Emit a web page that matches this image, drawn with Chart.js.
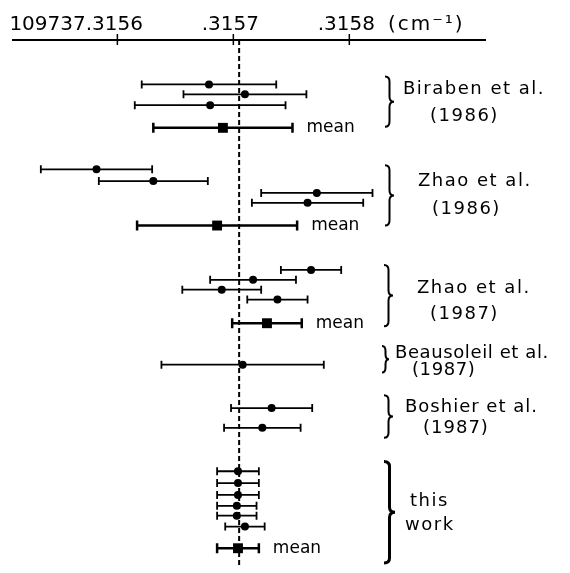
<!DOCTYPE html>
<html>
<head>
<meta charset="utf-8">
<script src="https://cdn.jsdelivr.net/npm/chart.js@4"></script>
<style>
  html, body { margin: 0; padding: 0; background: #fff; }
  #wrap { width: 570px; height: 573px; }
</style>
</head>
<body>
<div id="wrap"><canvas id="chart" width="570" height="573"></canvas></div>
<script>
// x values are the part after 109737 (cm-1), rows are positions on a hidden y axis
const birabenX = [0.315679, 0.315710, 0.315680];
const birabenErr = [0.000058, 0.000053, 0.000065];
const birabenRow = [4.5, 5.5, 6.6];

const zhao86X = [0.315582, 0.315631, 0.315772, 0.315764];
const zhao86Err = [0.000048, 0.000047, 0.000048, 0.000048];
const zhao86Row = [13.1, 14.3, 15.5, 16.5];

const zhao87X = [0.315767, 0.315717, 0.315690, 0.315738];
const zhao87Err = [0.000026, 0.000037, 0.000034, 0.000026];
const zhao87Row = [23.3, 24.3, 25.3, 26.3];

const beausoleilX = [0.315708];
const beausoleilErr = [0.000070];
const beausoleilRow = [32.9];

const boshierX = [0.315733, 0.315725];
const boshierErr = [0.000035, 0.000033];
const boshierRow = [37.3, 39.3];

const thisWorkX = [0.315704, 0.315704, 0.315704, 0.315703, 0.315703, 0.315710];
const thisWorkErr = [0.000018, 0.000018, 0.000018, 0.000017, 0.000017, 0.000017];
const thisWorkRow = [43.7, 44.9, 46.1, 47.2, 48.2, 49.3];

// group means (null where no mean was given)
const meanX = [0.315691, 0.315686, 0.315729, null, null, 0.315704];
const meanErr = [0.000060, 0.000069, 0.000030, null, null, 0.000018];
const meanRow = [8.9, 18.8, 28.7, null, null, 51.5];

const refValue = 0.315705;
const tickValues = [0.3156, 0.3157, 0.3158];
const tickLabels = ['109737.3156', '.3157', '.3158'];
const unitLabel = '(cm⁻¹)';
const meanLabel = 'mean';

const groupLabels = [
    ['Biraben et al.', '(1986)'],
    ['Zhao et al.', '(1986)'],
    ['Zhao et al.', '(1987)'],
    ['Beausoleil et al.', '(1987)'],
    ['Boshier et al.', '(1987)'],
    ['this', 'work']
];

const groups = [
    { x: birabenX, err: birabenErr, row: birabenRow },
    { x: zhao86X, err: zhao86Err, row: zhao86Row },
    { x: zhao87X, err: zhao87Err, row: zhao87Row },
    { x: beausoleilX, err: beausoleilErr, row: beausoleilRow },
    { x: boshierX, err: boshierErr, row: boshierRow },
    { x: thisWorkX, err: thisWorkErr, row: thisWorkRow }
];

const FONT = '"DejaVu Sans", sans-serif';

// where the brace and the two text lines sit for each group (x in px, y in row units)
const noteLayout = [
    { bx: 385, top: 3.7, bottom: 8.8, bw: 9, lines: [[403, 5.0], [430, 7.7]], size: 18, sp: '1.5px', lw: 2 },
    { bx: 385, top: 12.7, bottom: 18.8, bw: 9, lines: [[418, 14.3], [432, 17.2]], size: 18, sp: '1.5px', lw: 2 },
    { bx: 384, top: 22.8, bottom: 29.0, bw: 9, lines: [[417, 25.2], [430, 27.8]], size: 18, sp: '1.5px', lw: 2 },
    { bx: 382, top: 31.0, bottom: 33.7, bw: 7, lines: [[395, 31.8], [412, 33.5]], size: 18, sp: '0.6px', lw: 2 },
    { bx: 384, top: 36.0, bottom: 40.3, bw: 9, lines: [[405, 37.2], [423, 39.3]], size: 18, sp: '1px', lw: 2 },
    { bx: 384, top: 42.7, bottom: 53.0, bw: 11, lines: [[410, 46.7], [405, 49.2]], size: 18, sp: '1.5px', lw: 3 }
];

function drawBrace(ctx, x, top, bottom, w, lw) {
    const mid = (top + bottom) / 2;
    const xm = x + w * 0.5;
    const r = Math.min(5, (bottom - top) / 5);
    ctx.save();
    ctx.strokeStyle = '#000';
    ctx.lineWidth = lw;
    ctx.beginPath();
    ctx.moveTo(x, top);
    ctx.quadraticCurveTo(xm, top, xm, top + r);
    ctx.lineTo(xm, mid - r);
    ctx.quadraticCurveTo(xm, mid, x + w, mid);
    ctx.quadraticCurveTo(xm, mid, xm, mid + r);
    ctx.lineTo(xm, bottom - r);
    ctx.quadraticCurveTo(xm, bottom, x, bottom);
    ctx.stroke();
    ctx.restore();
}

const errorBars = {
    id: 'errorBars',
    beforeDatasetsDraw(chart) {
        const { ctx, scales: { x, y } } = chart;
        ctx.save();
        ctx.strokeStyle = '#000';
        chart.data.datasets.forEach(ds => {
            if (!ds.isErr) return;
            const isMean = ds.isMean;
            ctx.lineWidth = isMean ? 2.5 : 1.8;
            const cap = isMean ? 5 : 4;
            ds.data.forEach(p => {
                const py = y.getPixelForValue(p.y);
                const x1 = x.getPixelForValue(p.x - p.err);
                const x2 = x.getPixelForValue(p.x + p.err);
                ctx.beginPath();
                ctx.moveTo(x1, py);
                ctx.lineTo(x2, py);
                ctx.moveTo(x1, py - cap);
                ctx.lineTo(x1, py + cap);
                ctx.moveTo(x2, py - cap);
                ctx.lineTo(x2, py + cap);
                ctx.stroke();
            });
        });
        ctx.restore();
    }
};

const annotations = {
    id: 'annotations',
    afterDraw(chart) {
        const { ctx, scales: { x, y } } = chart;
        const axisY = chart.chartArea.top;
        ctx.save();
        ctx.fillStyle = '#000';
        ctx.strokeStyle = '#000';

        // tick marks crossing the axis line
        ctx.lineWidth = 1.5;
        tickValues.forEach(v => {
            const px = x.getPixelForValue(v);
            ctx.beginPath();
            ctx.moveTo(px, axisY - 6);
            ctx.lineTo(px, axisY + 5);
            ctx.stroke();
        });

        // tick labels: the ".315x" part sits over its tick
        ctx.font = '20px ' + FONT;
        ctx.textBaseline = 'alphabetic';
        ctx.textAlign = 'left';
        tickLabels.forEach((lab, i) => {
            const px = x.getPixelForValue(tickValues[i]);
            const suffix = lab.slice(-5);
            const w = ctx.measureText(lab).width;
            const s = ctx.measureText(suffix).width;
            ctx.fillText(lab, px - 3 - s / 2 - (w - s), axisY - 10);
        });
        ctx.letterSpacing = '2px';
        ctx.fillText(unitLabel, 388, axisY - 10);
        ctx.letterSpacing = '0px';

        // "mean" next to each mean bar
        ctx.font = '17px ' + FONT;
        ctx.textBaseline = 'middle';
        meanX.forEach((m, i) => {
            if (m === null) return;
            const px = x.getPixelForValue(m + meanErr[i]);
            ctx.fillText(meanLabel, px + 14, y.getPixelForValue(meanRow[i]));
        });

        // braces and group names
        noteLayout.forEach((n, i) => {
            drawBrace(ctx, n.bx, y.getPixelForValue(n.top), y.getPixelForValue(n.bottom), n.bw, n.lw);
            ctx.font = n.size + 'px ' + FONT;
            ctx.letterSpacing = n.sp;
            groupLabels[i].forEach((t, k) => {
                ctx.fillText(t, n.lines[k][0], y.getPixelForValue(n.lines[k][1]));
            });
            ctx.letterSpacing = '0px';
        });
        ctx.restore();
    }
};

const datasets = [];
// dashed reference line
datasets.push({
    type: 'line',
    data: [{ x: refValue, y: 0 }, { x: refValue, y: 53.3 }],
    borderColor: '#000',
    borderWidth: 2,
    borderDash: [5, 3],
    pointRadius: 0,
    fill: false
});
groups.forEach(g => {
    datasets.push({
        type: 'scatter',
        isErr: true,
        data: g.x.map((v, i) => ({ x: v, y: g.row[i], err: g.err[i] })),
        pointStyle: 'circle',
        pointRadius: 4,
        backgroundColor: '#000',
        borderColor: '#000',
        borderWidth: 0
    });
});
datasets.push({
    type: 'scatter',
    isErr: true,
    isMean: true,
    data: meanX.map((v, i) => ({ x: v, y: meanRow[i], err: meanErr[i] })).filter(p => p.x !== null),
    pointStyle: 'rect',
    pointRadius: 7,
    backgroundColor: '#000',
    borderColor: '#000',
    borderWidth: 0
});

new Chart(document.getElementById('chart'), {
    type: 'scatter',
    data: { datasets },
    options: {
        responsive: false,
        animation: false,
        layout: { padding: { top: 40, left: 13, right: 85, bottom: 0 } },
        plugins: { legend: { display: false }, tooltip: { enabled: false } },
        scales: {
            x: {
                type: 'linear',
                position: 'top',
                min: 0.315510,
                max: 0.315917,
                ticks: { display: false },
                grid: { display: false, drawTicks: false },
                border: { display: true, color: '#000', width: 2 }
            },
            y: {
                type: 'linear',
                display: false,
                reverse: true,
                min: 0,
                max: 53.3
            }
        }
    },
    plugins: [errorBars, annotations]
});
</script>
</body>
</html>
